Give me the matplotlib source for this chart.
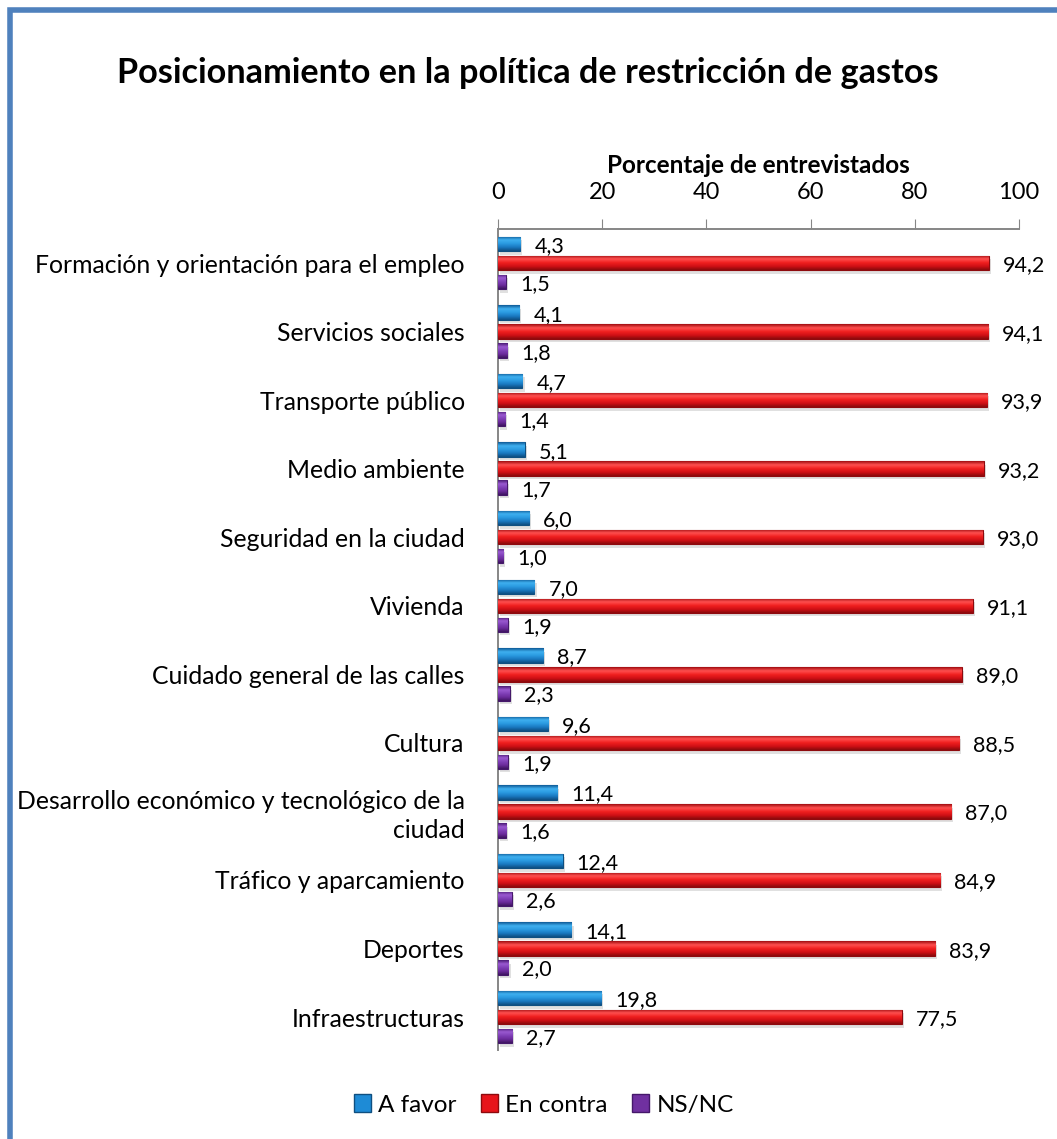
import matplotlib
matplotlib.use("Agg")
import matplotlib.pyplot as plt
import numpy as np
from matplotlib.patches import Rectangle
from matplotlib.colors import LinearSegmentedColormap

plt.rcParams['font.family'] = ['Lato', 'DejaVu Sans']

categories = [
    "Formación y orientación para el empleo",
    "Servicios sociales",
    "Transporte público",
    "Medio ambiente",
    "Seguridad en la ciudad",
    "Vivienda",
    "Cuidado general de las calles",
    "Cultura",
    "Desarrollo económico y tecnológico de la\nciudad",
    "Tráfico y aparcamiento",
    "Deportes",
    "Infraestructuras",
]
a_favor = [4.3, 4.1, 4.7, 5.1, 6.0, 7.0, 8.7, 9.6, 11.4, 12.4, 14.1, 19.8]
en_contra = [94.2, 94.1, 93.9, 93.2, 93.0, 91.1, 89.0, 88.5, 87.0, 84.9, 83.9, 77.5]
ns_nc = [1.5, 1.8, 1.4, 1.7, 1.0, 1.9, 2.3, 1.9, 1.6, 2.6, 2.0, 2.7]
series_names = ["A favor", "En contra", "NS/NC"]
xticks = [0, 20, 40, 60, 80, 100]

colors = ["#1E8BD6", "#E8141B", "#7030A0"]
edges = ["#0F4F80", "#8E0A0E", "#45186A"]
grads = [
    ["#0E5A96", "#3FB0F0", "#2A9AE0", "#1A78C0", "#0E4E80"],
    ["#A00C10", "#FF5050", "#F02020", "#D01015", "#8A0A0C"],
    ["#4A1A75", "#9A5AD0", "#8040B8", "#6A2A9A", "#3E1460"],
]

W, H = 1057, 1139
fig = plt.figure(figsize=(W / 100, H / 100), dpi=100)

# border (blue, top & left visible)
fig.patches.append(Rectangle((10 / W, -0.1), 1.2, 1 - 10 / H + 0.1, transform=fig.transFigure,
                             fill=False, edgecolor="#4F81BD", linewidth=4, zorder=10))

L, R, T, B = 498, 1019, 229, 1050
ax = fig.add_axes([L / W, 1 - B / H, (R - L) / W, (B - T) / H])

y = np.arange(len(categories))
h = 0.21
off = 0.277
data = [a_favor, en_contra, ns_nc]
for i, (vals, c, e, g) in enumerate(zip(data, colors, edges, grads)):
    pos = y + (i - 1) * off
    # soft shadow
    ax.barh(pos + 0.05, vals, height=h, left=0.4, color="#000000", alpha=0.12,
            linewidth=0, zorder=2)
    bars = ax.barh(pos, vals, height=h, color=c, edgecolor=e, linewidth=0.8, zorder=3)
    cmap = LinearSegmentedColormap.from_list(f"g{i}", g)
    grad = np.linspace(0, 1, 64).reshape(-1, 1)
    for b in bars:
        x0, y0 = b.get_x(), b.get_y()
        im = ax.imshow(grad, cmap=cmap, aspect="auto", zorder=3.5,
                       extent=(x0, x0 + b.get_width(), y0 + b.get_height(), y0),
                       interpolation="bilinear")
        im.set_clip_path(b)
    for p, v in zip(pos, vals):
        ax.text(v + 2.7, p + 0.03, f"{v:.1f}".replace(".", ","), va="center", ha="left",
                fontsize=15.5, color="black")

ax.set_xlim(0, 100)
ax.set_ylim(len(categories) - 1 + 0.48, -0.496)
ax.xaxis.tick_top()
ax.xaxis.set_label_position("top")
ax.set_xticks(xticks)
ax.set_xticklabels([str(t) for t in xticks], fontsize=17)
ax.tick_params(axis="x", direction="out", length=7, color="#868686", pad=12)
ax.set_xlabel("Porcentaje de entrevistados", fontsize=17.5, fontweight="bold", labelpad=6)
ax.set_yticks(y)
ax.set_yticklabels(categories, fontsize=17.8, linespacing=1.3)
ax.tick_params(axis="y", length=0, pad=24)
for s in ["right", "bottom"]:
    ax.spines[s].set_visible(False)
for s in ["top", "left"]:
    ax.spines[s].set_color("#868686")
    ax.spines[s].set_linewidth(1.4)

fig.text(528 / W, 1 - 73 / H, "Posicionamiento en la política de restricción de gastos",
         ha="center", va="center", fontsize=24.7, fontweight="bold")

handles = [Rectangle((0, 0), 1, 1, facecolor=c, edgecolor=e) for c, e in zip(colors, edges)]
fig.legend(handles, series_names, loc="center", bbox_to_anchor=(544 / W, 1 - 1105 / H),
           ncol=3, frameon=False, fontsize=17.5, handlelength=0.7, handleheight=0.7,
           handletextpad=0.3, columnspacing=1.0)

fig.savefig("out.png", dpi=100)
